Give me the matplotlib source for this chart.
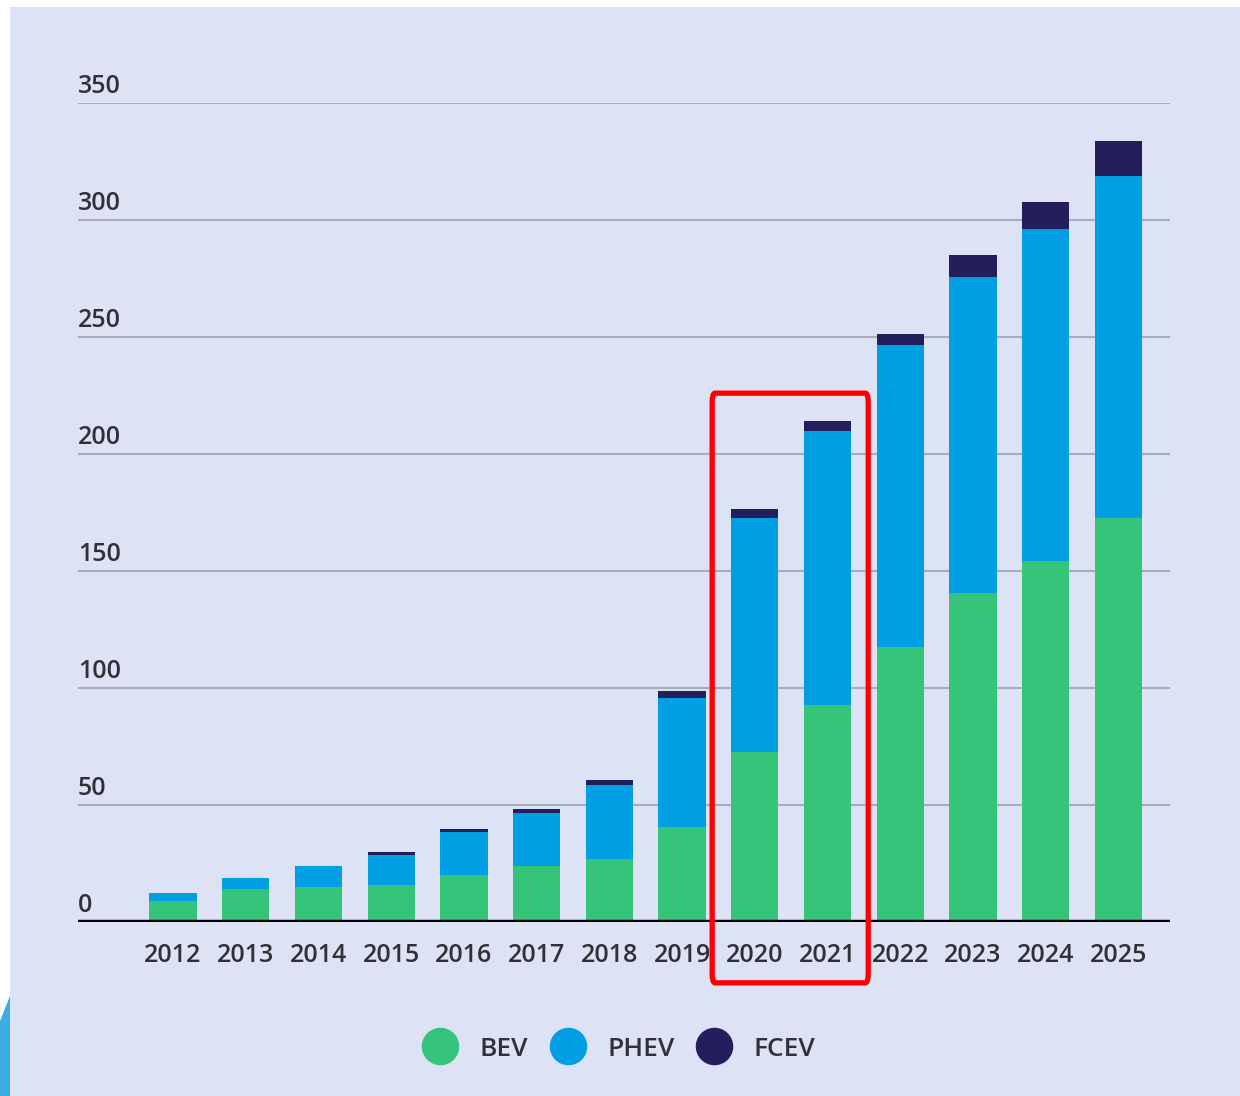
#!/usr/bin/env python3

import numpy as np
import matplotlib.pyplot as plt
from matplotlib.patches import Rectangle, Polygon, FancyBboxPatch
from matplotlib.lines import Line2D
import matplotlib.transforms as mtransforms

# =========================
# DATA
# =========================

years = ["2012", "2013", "2014", "2015", "2016", "2017", "2018",
         "2019", "2020", "2021", "2022", "2023", "2024", "2025"]

bev = np.array([9.1, 14.1, 15.1, 15.8, 20.1, 23.9, 26.8,
                40.5, 72.6, 92.7, 117.5, 140.6, 154.3, 172.6])
phev = np.array([3.2, 4.8, 8.8, 12.8, 18.5, 22.8, 31.7,
                 55.2, 100.0, 117.3, 129.1, 135.0, 141.7, 146.4])
fcev = np.array([0.0, 0.0, 0.0, 1.3, 1.0, 1.6, 2.2,
                 3.0, 3.9, 4.0, 4.7, 9.4, 11.7, 14.8])

series_names = ["BEV", "PHEV", "FCEV"]
y_ticks = [0, 50, 100, 150, 200, 250, 300, 350]
highlight = ["2020", "2021"]

# =========================
# STYLE
# =========================

BG = "#dde3f4"
GREEN = "#35c47a"
BLUE = "#009fe3"
NAVY = "#231f5c"
TEXT = "#2f3137"
GRID = "#a9adbb"

plt.rcParams['font.family'] = ['Open Sans', 'DejaVu Sans']
plt.rcParams['font.weight'] = 'semibold'

fig = plt.figure(figsize=(12.4, 10.96), dpi=100, facecolor="white")

# lavender panel (white strip left/top like the screenshot)
W, H = 1240, 1096
fig.patches.append(Rectangle((10 / W, 0), 1 - 10 / W, 1 - 7 / H,
                             transform=fig.transFigure, facecolor=BG,
                             edgecolor="none", zorder=-10))
# blue swoosh fragment in bottom-left corner
fig.patches.append(Polygon([(0, 0), (10 / W, 0), (10 / W, 100 / H), (0, 75 / H)],
                           closed=True, transform=fig.transFigure,
                           facecolor="#3aaee0", edgecolor="none", zorder=-10))

ax = fig.add_axes([78 / W, 1 - 922 / H, (1170 - 78) / W, (922 - 103) / H])
ax.set_facecolor("none")

x = np.arange(len(years))
width = 0.65

ax.bar(x, bev, width, color=GREEN, zorder=3)
ax.bar(x, phev, width, bottom=bev, color=BLUE, zorder=3)
ax.bar(x, fcev, width, bottom=bev + phev, color=NAVY, zorder=3)

ax.set_xlim(-1.307, 13.71)
ax.set_ylim(0, 350)

# gridlines + baseline
for v in y_ticks[1:]:
    ax.axhline(v, color=GRID, linewidth=1.5, zorder=1)
ax.axhline(0, color="black", linewidth=3.2, zorder=4)

for s in ax.spines.values():
    s.set_visible(False)

# y labels sit above their gridline, left aligned
ax.set_yticks([])
trans = mtransforms.blended_transform_factory(ax.transAxes, ax.transData)
offset = mtransforms.offset_copy(trans, fig=fig, x=0, y=7, units="points")
for v in y_ticks:
    ax.text(0, v, str(v), transform=offset, ha="left", va="baseline",
            fontsize=18, color=TEXT)

ax.set_xticks(x)
ax.set_xticklabels(years, fontsize=18, color=TEXT)
ax.tick_params(axis="x", length=0, pad=15)

# red highlight box around 2020-2021
i0 = years.index(highlight[0])
i1 = years.index(highlight[-1])
ax.add_patch(FancyBboxPatch((i0 - 0.586, -26), (i1 - i0) + 0.586 + 0.56, 252,
                            boxstyle="round,pad=0,rounding_size=0.04",
                            mutation_aspect=100,
                            facecolor="none", edgecolor="#ff0000", linewidth=3.8,
                            clip_on=False, zorder=6))

# legend
handles = [Line2D([], [], linestyle="none", marker="o", markersize=26,
                  markerfacecolor=c, markeredgecolor=c)
           for c in [GREEN, BLUE, NAVY]]
leg = fig.legend(handles, series_names, loc="center", ncol=3,
                 bbox_to_anchor=(0.5, 1 - 1049 / H), frameon=False,
                 fontsize=19, handletextpad=0.9, columnspacing=0.9,
                 handlelength=1.2)
for t in leg.get_texts():
    t.set_color(TEXT)

plt.savefig("out.png", dpi=100, facecolor=fig.get_facecolor())
